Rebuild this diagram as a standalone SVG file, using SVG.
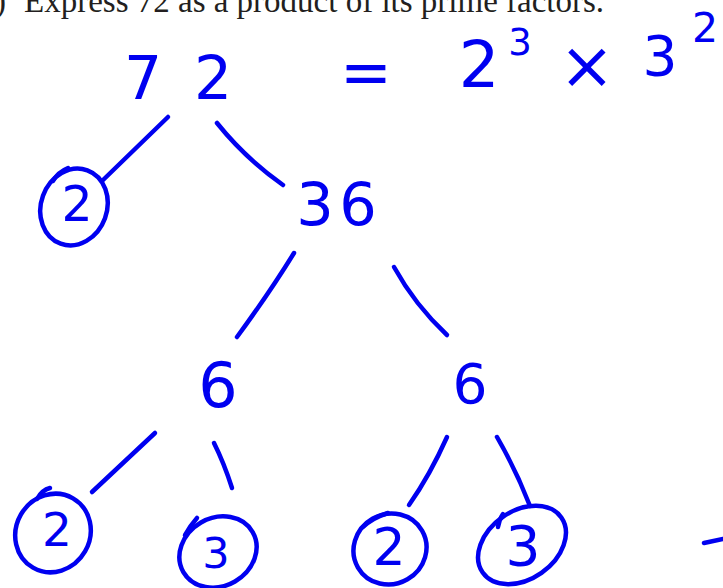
<svg xmlns="http://www.w3.org/2000/svg" width="723" height="588" viewBox="0 0 723 588">
<style>
.hdr{font-family:"Liberation Serif","Times New Roman",serif;font-size:33px;fill:#231f20}
.ink{font-family:"DejaVu Sans","Liberation Sans",sans-serif;fill:#0000f0;text-anchor:middle}
.pen{fill:none;stroke:#0000f0;stroke-width:4.5;stroke-linecap:round;stroke-linejoin:round}
</style>
<rect width="723" height="588" fill="#ffffff"/>
<text class="hdr" x="6" y="12" text-anchor="end">b)</text>
<text class="hdr" x="24" y="12">Express 72 as a product of its prime factors.</text>

<g id="answer">
<text class="ink" x="479" y="87" font-size="64">2</text>
<text class="ink" x="520" y="55" font-size="37">3</text>
<text class="ink" x="366" y="94" font-size="62">=</text>
<text class="ink" x="587" y="88" font-size="66">×</text>
<text class="ink" x="660" y="75" font-size="55">3</text>
<text class="ink" x="705" y="42" font-size="41">2</text>
</g>

<g id="n72">
<text class="ink" y="99" font-size="60"><tspan x="143">7</tspan><tspan x="213">2</tspan></text>
</g>
<g id="n2a">
<ellipse class="pen" cx="74" cy="207" rx="33" ry="39" transform="rotate(20 74 207)"/>
<path class="pen" d="M68,168 Q58,172 53,181"/>
<text class="ink" x="77" y="221" font-size="49">2</text>
</g>
<g id="n36">
<text class="ink" y="225" font-size="59"><tspan x="315">3</tspan><tspan x="358">6</tspan></text>
</g>
<g id="n6a">
<text class="ink" x="218" y="407" font-size="62">6</text>
</g>
<g id="n6b">
<text class="ink" x="470" y="403" font-size="55">6</text>
</g>
<g id="n2b">
<ellipse class="pen" cx="53" cy="533" rx="37" ry="40" transform="rotate(30 53 533)"/>
<path class="pen" d="M50,488 Q42,490 37,499"/>
<text class="ink" x="57" y="546" font-size="47">2</text>
</g>
<g id="n3a">
<ellipse class="pen" cx="218" cy="552" rx="40" ry="34" transform="rotate(-30 218 552)"/>
<path class="pen" d="M197,518 Q190,526 185,535"/>
<text class="ink" x="216" y="568" font-size="43">3</text>
</g>
<g id="n2c">
<ellipse class="pen" cx="390" cy="549" rx="37" ry="35" transform="rotate(-30 390 549)"/>
<path class="pen" d="M388,513 Q372,518 363,527"/>
<text class="ink" x="389" y="565" font-size="52">2</text>
</g>
<g id="n3b">
<ellipse class="pen" cx="522" cy="545" rx="48" ry="34" transform="rotate(-35 522 545)"/>
<path class="pen" d="M503,514 Q499,520 498,527"/>
<text class="ink" x="523" y="565" font-size="55">3</text>
</g>

<g id="connectors">
<path class="pen" d="M168,117 L102,181"/>
<path class="pen" d="M217,123 Q245,158 283,185"/>
<path class="pen" d="M294,253 Q270,292 237,337"/>
<path class="pen" d="M394,267 Q415,305 447,335"/>
<path class="pen" d="M155,433 L92,492"/>
<path class="pen" d="M214,443 Q224,463 232,488"/>
<path class="pen" d="M447,437 Q430,475 409,505"/>
<path class="pen" d="M497,437 Q516,470 530,506"/>
</g>
<path class="pen" d="M704,543 L723,539"/>
</svg>
